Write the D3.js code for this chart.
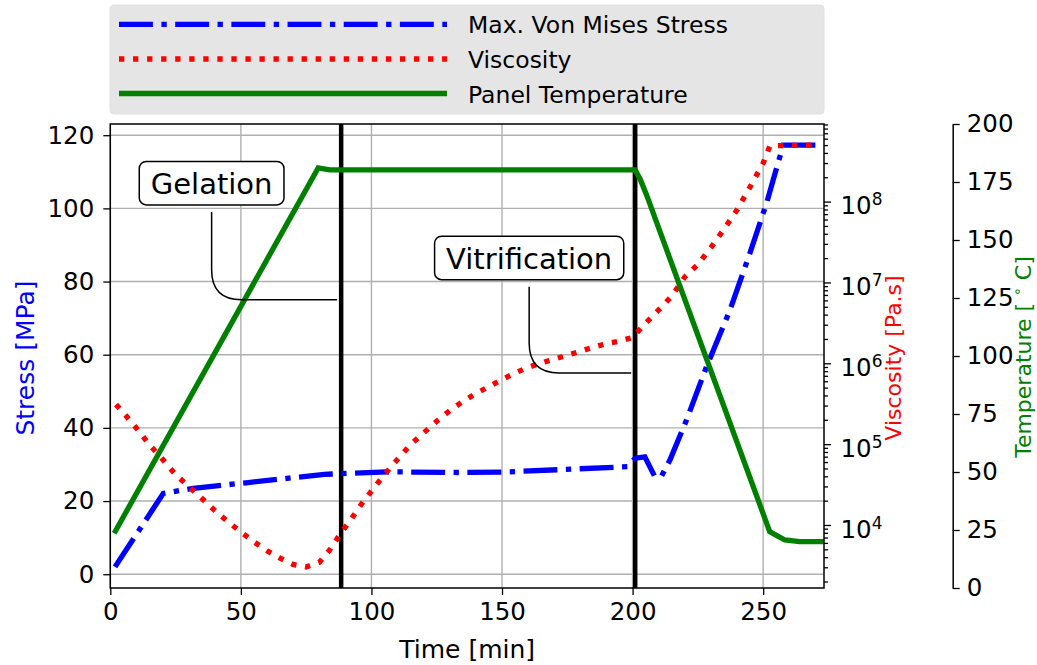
<!DOCTYPE html>
<html><head><meta charset="utf-8">
<script src="https://cdn.jsdelivr.net/npm/d3@7"></script>
<style>
body{margin:0;background:#fff}
svg{display:block}
text{font-family:"DejaVu Sans",sans-serif;fill:#000}
</style>
</head><body><svg id="c" width="1037" height="665"></svg>
<script>
// ---------------- data ----------------
const seriesNames = ["Max. Von Mises Stress", "Viscosity", "Panel Temperature"];

const stressTime   = [1.8, 20.3, 31.8, 52, 82, 106, 134, 150, 198, 201, 204.7, 208.5, 211, 214.3, 220.7, 228.3, 237.3, 244.9, 251.3, 253.8, 257.7, 270.4];
const stressValues = [2.0, 22.1, 23.5, 25.0, 27.3, 28.0, 27.8, 27.9, 29.4, 31.7, 32.1, 26.7, 26.7, 31.2, 42.2, 56.7, 72.2, 87.7, 101.4, 107.7, 117.3, 117.3];

const viscTime   = [2.2, 6, 10, 15, 20, 25, 30, 35, 40, 45, 50, 55, 60, 65, 70, 75, 80, 84, 88, 92, 96, 100, 105, 110, 115, 120, 125, 130, 135, 140, 145, 150, 155, 160, 165, 170, 175, 180, 185, 190, 195, 200, 205, 210, 215, 220, 225, 230, 235, 240, 245, 250, 252.6, 270.4];
const viscValues = [3.1e5, 2.24e5, 1.58e5, 9.8e4, 6.5e4, 4.2e4, 3.0e4, 2.14e4, 1.51e4, 1.10e4, 8.2e3, 6.2e3, 4.8e3, 3.9e3, 3.25e3, 3.03e3, 3.43e3, 4.9e3, 7.7e3, 1.15e4, 1.78e4, 2.63e4, 4.2e4, 6.5e4, 9.9e4, 1.38e5, 1.92e5, 2.6e5, 3.37e5, 4.22e5, 5.16e5, 6.3e5, 7.6e5, 8.9e5, 1.01e6, 1.13e6, 1.26e6, 1.41e6, 1.58e6, 1.75e6, 1.88e6, 2.09e6, 3.13e6, 4.57e6, 6.8e6, 1.17e7, 1.67e7, 2.7e7, 4.56e7, 7.9e7, 1.52e8, 3.0e8, 4.9e8, 5.0e8];

const tempTime   = [1.5, 79.6, 84, 201, 203, 205.5, 252.5, 258.3, 264, 273.3];
const tempValues = [23.6, 181.1, 180.2, 180.2, 176, 169, 24.3, 20.7, 20, 20];

const eventLabels = ["Gelation", "Vitrification"];
const eventTimes = [88.4, 201];
const eventTargetStress = [75, 55];

const timeTicks = [0, 50, 100, 150, 200, 250];
const stressTicks = [0, 20, 40, 60, 80, 100, 120];
const viscTicks = [1e4, 1e5, 1e6, 1e7, 1e8];
const tempTicks = [0, 25, 50, 75, 100, 125, 150, 175, 200];

// ---------------- layout ----------------
const M = {left: 110.3, right: 824, top: 124, bottom: 588};
const tempAxisX = 952.7;
const annotTextAt = [{t: 38.8, s: 106.9}, {t: 160.4, s: 86.45}];
const LW = 5.3;
const FS = 24.5;
const LEGFS = 23.5;

const svg = d3.select("#c");
const x = d3.scaleLinear().domain([0, 273.3]).range([M.left, M.right]);
function padExt(e, f) { const r = e[1] - e[0]; return [e[0] - f * r, e[1] + f * r]; }
const yS = d3.scaleLinear().domain(padExt(d3.extent(stressValues), 0.05)).range([M.bottom, M.top]);
const lp = padExt(d3.extent(viscValues).map(Math.log10), 0.05);
const yV = d3.scaleLog().domain([Math.pow(10, lp[0]), Math.pow(10, lp[1])]).range([M.bottom, M.top]);
const yT = d3.scaleLinear().domain([0, 200]).range([M.bottom, M.top]);

svg.append("defs").append("clipPath").attr("id", "clip")
  .append("rect").attr("x", M.left).attr("y", M.top)
  .attr("width", M.right - M.left).attr("height", M.bottom - M.top);

// grid
const grid = svg.append("g");
grid.selectAll(".gx").data(timeTicks).join("line")
  .attr("x1", d => x(d)).attr("x2", d => x(d)).attr("y1", M.top).attr("y2", M.bottom)
  .attr("stroke", "#b0b0b0").attr("stroke-width", 1.4);
grid.selectAll(".gy").data(stressTicks).join("line")
  .attr("x1", M.left).attr("x2", M.right).attr("y1", d => yS(d)).attr("y2", d => yS(d))
  .attr("stroke", "#b0b0b0").attr("stroke-width", 1.4);

const plot = svg.append("g").attr("clip-path", "url(#clip)");

// event lines
plot.selectAll(".ev").data(eventTimes).join("line")
  .attr("x1", d => x(d)).attr("x2", d => x(d)).attr("y1", M.top).attr("y2", M.bottom)
  .attr("stroke", "#000").attr("stroke-width", 4.5);

// stress
const dashdot = [6.4 * LW, 1.6 * LW, 1 * LW, 1.6 * LW].join(",");
const dotted = [1 * LW, 1.65 * LW].join(",");
plot.append("path")
  .attr("d", d3.line().x((d, i) => x(stressTime[i])).y(d => yS(d))(stressValues))
  .attr("fill", "none").attr("stroke", "#0000ff").attr("stroke-width", LW)
  .attr("stroke-dasharray", dashdot);

// annotations
eventLabels.forEach((lab, i) => {
  const g = svg.append("g");
  const bx = x(annotTextAt[i].t), by = yS(annotTextAt[i].s);
  const tx = x(eventTimes[i]) - 4, ty = yS(eventTargetStress[i]);
  const r = 30, y0 = by + 21.75 + 7;
  g.append("path")
    .attr("d", `M${bx},${y0} V${ty - r} Q${bx},${ty} ${bx + r},${ty} H${tx}`)
    .attr("fill", "none").attr("stroke", "#000").attr("stroke-width", 1.5);
  const rect = g.append("rect");
  const t = g.append("text").attr("x", bx).attr("y", by + 11.3)
    .attr("text-anchor", "middle").style("font-size", "29px").text(lab);
  const w = t.node().getComputedTextLength();
  rect.attr("x", bx - w / 2 - 11.5).attr("y", by - 21.75).attr("width", w + 23).attr("height", 43.5)
    .attr("rx", 7).attr("fill", "#fff").attr("stroke", "#000").attr("stroke-width", 1.5);
});

// viscosity and temperature (twin axes, drawn on top)
plot.append("path")
  .attr("d", d3.line().x((d, i) => x(viscTime[i])).y(d => yV(d))(viscValues))
  .attr("fill", "none").attr("stroke", "#ff0000").attr("stroke-width", LW)
  .attr("stroke-dasharray", dotted);
plot.append("path")
  .attr("d", d3.line().x((d, i) => x(tempTime[i])).y(d => yT(d))(tempValues))
  .attr("fill", "none").attr("stroke", "#008000").attr("stroke-width", LW);

// frame
svg.append("rect").attr("x", M.left).attr("y", M.top)
  .attr("width", M.right - M.left).attr("height", M.bottom - M.top)
  .attr("fill", "none").attr("stroke", "#000").attr("stroke-width", 1.5);

function styleAxis(g) {
  g.select(".domain").remove();
  g.selectAll(".tick line").attr("stroke", "#000").attr("stroke-width", 1.3);
  g.selectAll(".tick text").style("font-size", FS + "px").attr("fill", "#000");
}

svg.append("g").attr("transform", `translate(${M.left},0)`)
  .call(d3.axisLeft(yS).tickValues(stressTicks).tickSize(7).tickPadding(9).tickSizeOuter(0))
  .call(styleAxis);
svg.append("g").attr("transform", `translate(0,${M.bottom})`)
  .call(d3.axisBottom(x).tickValues(timeTicks).tickSize(7).tickPadding(8).tickSizeOuter(0))
  .call(styleAxis);

// viscosity axis: minor + major
const minor = [];
for (let e = 2; e <= 9; e++) for (let m = 2; m <= 9; m++) {
  const v = m * Math.pow(10, e);
  if (v >= yV.domain()[0] && v <= yV.domain()[1]) minor.push(v);
}
svg.append("g").attr("transform", `translate(${M.right},0)`)
  .call(d3.axisRight(yV).tickValues(minor).tickSize(4).tickFormat(() => "").tickSizeOuter(0))
  .call(styleAxis);
const va = svg.append("g").attr("transform", `translate(${M.right},0)`)
  .call(d3.axisRight(yV).tickValues(viscTicks).tickSize(7).tickPadding(9.5).tickSizeOuter(0))
  .call(styleAxis);
va.selectAll(".tick text").each(function(d) {
  const t = d3.select(this);
  const ex = Math.round(Math.log10(d));
  t.text(null).attr("dy", "0.5em");
  t.append("tspan").text("10");
  t.append("tspan").attr("dy", "-9").style("font-size", "17px").text(ex);
});

// temperature axis
const ta = svg.append("g").attr("transform", `translate(${tempAxisX},0)`)
  .call(d3.axisRight(yT).tickValues(tempTicks).tickSize(7).tickPadding(7).tickSizeOuter(0));
ta.select(".domain").attr("stroke", "#000").attr("stroke-width", 1.5);
ta.selectAll(".tick line").attr("stroke", "#000").attr("stroke-width", 1.3);
ta.selectAll(".tick text").style("font-size", FS + "px").attr("fill", "#000");

// axis labels
svg.append("text").attr("x", (M.left + M.right) / 2).attr("y", 658)
  .attr("text-anchor", "middle").style("font-size", "25px").text("Time [min]");
svg.append("text").attr("transform", "translate(34,358) rotate(-90)")
  .attr("text-anchor", "middle").style("font-size", "25px").style("fill", "#0000ff").text("Stress [MPa]");
svg.append("text").attr("transform", "translate(901,358) rotate(-90)")
  .attr("text-anchor", "middle").style("font-size", "22px").style("fill", "#ff0000").text("Viscosity [Pa.s]");
const tl = svg.append("text").attr("transform", "translate(1031,357) rotate(-90)")
  .attr("text-anchor", "middle").style("font-size", "22px").style("fill", "#008000");
tl.append("tspan").text("Temperature [ ");
tl.append("tspan").attr("dy", -9).style("font-size", "14px").text("\u2218");
tl.append("tspan").attr("dy", 9).text(" C]");

// legend
const lg = svg.append("g");
lg.append("rect").attr("x", 110).attr("y", 5).attr("width", 714).attr("height", 109)
  .attr("rx", 4).attr("fill", "#e5e5e5").attr("stroke", "#e0e0e0");
const rowsY = [24.3, 59, 93.5];
const legStyles = [
  {c: "#0000ff", dash: dashdot},
  {c: "#ff0000", dash: dotted},
  {c: "#008000", dash: null}
];
seriesNames.forEach((n, i) => {
  const l = lg.append("line").attr("x1", 119).attr("x2", 447).attr("y1", rowsY[i]).attr("y2", rowsY[i])
    .attr("stroke", legStyles[i].c).attr("stroke-width", LW);
  if (legStyles[i].dash) l.attr("stroke-dasharray", legStyles[i].dash);
  lg.append("text").attr("x", 468).attr("y", rowsY[i] + 9).style("font-size", LEGFS + "px").text(n);
});
</script>
</body></html>
